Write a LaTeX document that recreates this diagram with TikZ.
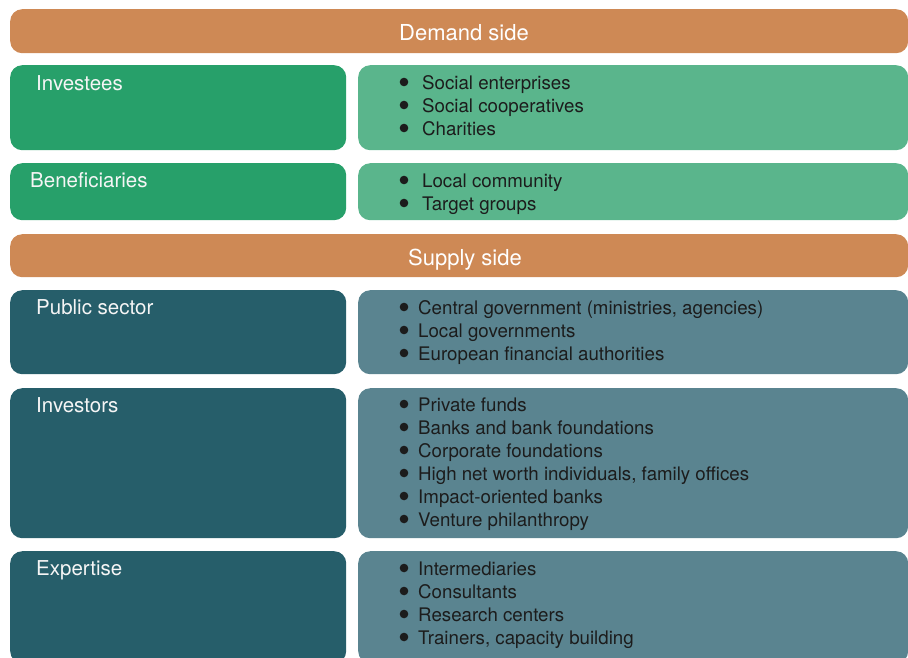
\documentclass[tikz,border=0pt]{standalone}
\usepackage{fontspec}
\setmainfont{TeX Gyre Heros}
\definecolor{headorange}{HTML}{CE8955}
\definecolor{demdark}{HTML}{27A06A}
\definecolor{demlight}{HTML}{5AB58C}
\definecolor{supdark}{HTML}{265E6A}
\definecolor{suplight}{HTML}{5A8490}
\definecolor{itemtext}{HTML}{1C1C1C}
\begin{document}
\begin{tikzpicture}[x=1pt,y=-1pt,
  box/.style={rounded corners=12pt, inner sep=0pt, anchor=north west, draw=none},
  headbar/.style={box, fill=headorange, minimum width=898pt},
  leftbox/.style={box, minimum width=336pt},
  rightbox/.style={box, minimum width=550pt},
  headtext/.style={text=white, inner sep=0pt, anchor=base, font=\fontsize{22}{26}\selectfont},
  labeltext/.style={text=white!96!black, inner sep=0pt, anchor=base west, font=\fontsize{20.5}{24}\selectfont},
  itemlabel/.style={text=itemtext, inner sep=0pt, anchor=base west, font=\fontsize{18.7}{22}\selectfont},
  dot/.style={circle, fill=itemtext, inner sep=0pt, minimum size=8.6pt},
]
\useasboundingbox (0,0) rectangle (908,657);
\clip (0,0) rectangle (908,657);

% ---------- demand side ----------
\node[headbar, minimum height=44pt] (demand) at (10,9) {};
\node[headtext] (demand-t) at (464,40) {Demand side};

\node[leftbox, fill=demdark, minimum height=85pt] (investees) at (10,65) {};
\node[rightbox, fill=demlight, minimum height=85pt] (investees-r) at (358,65) {};
\node[labeltext] (investees-t) at (36,90) {Investees};
\foreach \t [count=\i] in {Social enterprises, Social cooperatives, Charities} {
  \node[dot] (investees-b\i) at (404,89+23*\i-23-7) {};
  \node[itemlabel] (investees-i\i) at (422,89+23*\i-23) {\t};
}

\node[leftbox, fill=demdark, minimum height=57pt] (benef) at (10,163) {};
\node[rightbox, fill=demlight, minimum height=57pt] (benef-r) at (358,163) {};
\node[labeltext] (benef-t) at (30,187) {Beneficiaries};
\foreach \t [count=\i] in {Local community, Target groups} {
  \node[dot] (benef-b\i) at (404,187+23*\i-23-7) {};
  \node[itemlabel] (benef-i\i) at (422,187+23*\i-23) {\t};
}

% ---------- supply side ----------
\node[headbar, minimum height=43pt] (supply) at (10,234) {};
\node[headtext] (supply-t) at (465,265) {Supply side};

\node[leftbox, fill=supdark, minimum height=84pt] (public) at (10,290) {};
\node[rightbox, fill=suplight, minimum height=84pt] (public-r) at (358,290) {};
\node[labeltext] (public-t) at (36,314) {Public sector};
\foreach \t [count=\i] in {{Central government (ministries, agencies)}, Local governments, European financial authorities} {
  \node[dot] (public-b\i) at (404,314+23*\i-23-7) {};
  \node[itemlabel] (public-i\i) at (418,314+23*\i-23) {\t};
}

\node[leftbox, fill=supdark, minimum height=150pt] (investors) at (10,388) {};
\node[rightbox, fill=suplight, minimum height=150pt] (investors-r) at (358,388) {};
\node[labeltext] (investors-t) at (36,412) {Investors};
\foreach \t [count=\i] in {Private funds, Banks and bank foundations, Corporate foundations, {High net worth individuals, family offices}, Impact-oriented banks, Venture philanthropy} {
  \node[dot] (investors-b\i) at (404,411+23*\i-23-7) {};
  \node[itemlabel] (investors-i\i) at (418,411+23*\i-23) {\t};
}

\node[leftbox, fill=supdark, minimum height=112pt] (expertise) at (10,551) {};
\node[rightbox, fill=suplight, minimum height=112pt] (expertise-r) at (358,551) {};
\node[labeltext] (expertise-t) at (36,575) {Expertise};
\foreach \t [count=\i] in {Intermediaries, Consultants, Research centers, {Trainers, capacity building}} {
  \node[dot] (expertise-b\i) at (404,575+23*\i-23-7) {};
  \node[itemlabel] (expertise-i\i) at (418,575+23*\i-23) {\t};
}
\end{tikzpicture}
\end{document}
